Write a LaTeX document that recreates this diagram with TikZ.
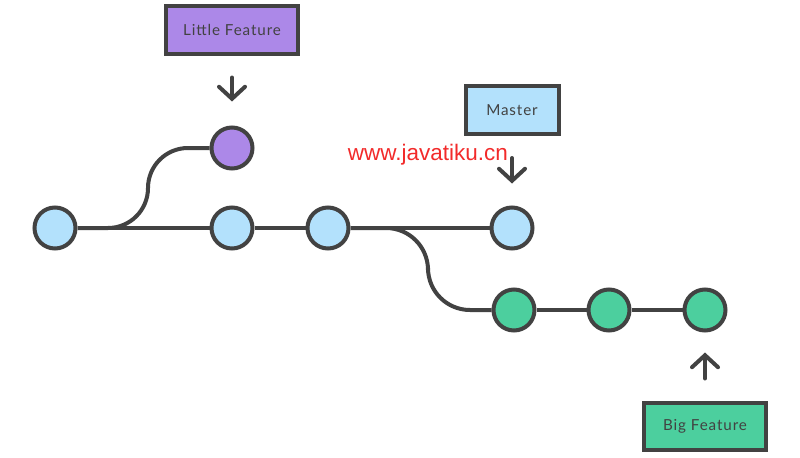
\documentclass[tikz,border=0pt]{standalone}
\usepackage{fontspec}
\setmainfont{Lato}
\newfontfamily\tagfont[LetterSpace=6]{Lato}
\newfontfamily\markfont{Liberation Sans}
\usetikzlibrary{arrows.meta}

\definecolor{inkgray}{HTML}{424242}
\definecolor{blueC}{HTML}{B3E1FC}
\definecolor{purpleC}{HTML}{AC88E8}
\definecolor{greenC}{HTML}{4CCF9E}
\definecolor{markred}{HTML}{F22A2A}

\tikzset{
  commit/.style={circle, draw=inkgray, line width=1mm, minimum size=10.25mm, inner sep=0pt},
  tag/.style={rectangle, draw=inkgray, line width=1mm, minimum height=11.75mm, inner sep=0pt,
    text=inkgray, font=\tagfont\fontsize{10.8}{12}\selectfont},
  branch/.style={draw=inkgray, line width=1mm},
  ptr/.style={draw=inkgray, line width=1mm, line cap=round,
    -{Straight Barb[length=3mm, width=6.5mm, line cap=round]}}
}

\begin{document}
\begin{tikzpicture}[x=0.25mm, y=-0.25mm]
        \useasboundingbox (0,0) rectangle (800,458);

        % Commits on master
        \node[commit, fill=blueC] (m1) at (55,228) {};
        \node[commit, fill=blueC] (m2) at (232,228) {};
        \node[commit, fill=blueC] (m3) at (328,228) {};
        \node[commit, fill=blueC] (m4) at (512,228) {};

        % Little feature commit
        \node[commit, fill=purpleC] (lf1) at (232,148) {};

        % Big feature commits
        \node[commit, fill=greenC] (bf1) at (514,310) {};
        \node[commit, fill=greenC] (bf2) at (609,310) {};
        \node[commit, fill=greenC] (bf3) at (705,310) {};

        % Branch labels
        \node[tag, fill=purpleC, minimum width=32.75mm] (lftag) at (232,30) {Little Feature};
        \node[tag, fill=blueC, minimum width=23.25mm, minimum height=12mm] (mtag) at (512,110) {Master};
        \node[tag, fill=greenC, minimum width=30.5mm] (bftag) at (705,426) {Big Feature};

        % Master line
        \draw[branch] (m1) -- (m2) -- (m3) -- (m4);

        % Branch curves
        \draw[branch, rounded corners=10mm] (m1.east) -- (148,228) -- (148,148) -- (lf1.west);
        \draw[branch, rounded corners=10.5mm] (m3.east) -- (428,228) -- (428,310) -- (bf1.west);
        \draw[branch] (bf1) -- (bf2) -- (bf3);

        % Pointers from labels
        \draw[ptr, shorten <=5.5mm, shorten >=6mm] (lftag.south) -- (lf1.north);
        \draw[ptr, shorten <=5.5mm, shorten >=5.5mm] (mtag.south) -- (m4.north);
        \draw[ptr, shorten <=5.5mm, shorten >=5mm] (bftag.north) -- (bf3.south);

        % Watermark
        \node[text=markred, font=\markfont\fontsize{16}{18}\selectfont, inner sep=0pt] (mark) at (428,155) {www.javatiku.cn};

    \end{tikzpicture}
\end{document}
